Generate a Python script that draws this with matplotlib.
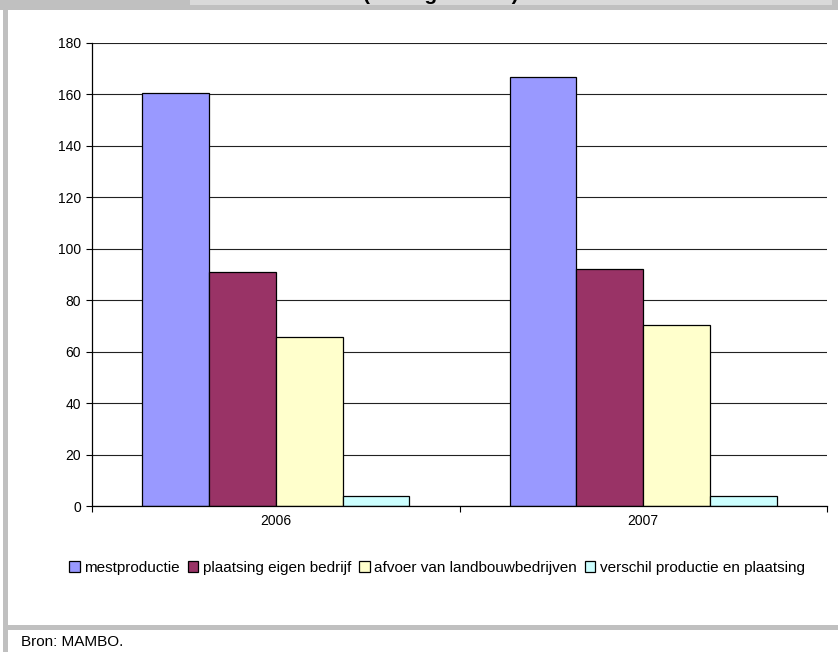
import matplotlib.pyplot as plt
from matplotlib.patches import Rectangle
import numpy as np

# ------------------------------------------------------------
# Data
# ------------------------------------------------------------
years = ["2006", "2007"]
series_names = [
    "mestproductie",
    "plaatsing eigen bedrijf",
    "afvoer van landbouwbedrijven",
    "verschil productie en plaatsing",
]
mestproductie = [160.5, 166.7]
plaatsing_eigen = [91.0, 92.1]
afvoer = [65.8, 70.4]
verschil = [3.9, 3.9]
y_ticks = [0, 20, 40, 60, 80, 100, 120, 140, 160, 180]

colors = ["#9999FF", "#993366", "#FFFFCC", "#CCFFFF"]

W, H = 838, 652


def fx(px):
    return px / W


def fy(py):
    return 1 - py / H


fig = plt.figure(figsize=(W / 100, H / 100), dpi=100)
fig.patch.set_facecolor("white")

# frame decorations (Excel sheet look)
gray = "#c0c0c0"
fig.patches.append(Rectangle((0, fy(10)), 1, 10 / H, transform=fig.transFigure,
                             facecolor=gray, edgecolor="none", zorder=0))
fig.patches.append(Rectangle((fx(190), fy(5)), fx(832) - fx(190), 5 / H,
                             transform=fig.transFigure, facecolor="#d9d9d9",
                             edgecolor="none", zorder=1))
fig.patches.append(Rectangle((fx(3), 0), 5 / W, fy(10), transform=fig.transFigure,
                             facecolor=gray, edgecolor="none", zorder=0))
fig.patches.append(Rectangle((fx(3), fy(630)), 1 - fx(3), 5 / H,
                             transform=fig.transFigure, facecolor=gray,
                             edgecolor="none", zorder=0))

# title, cut off at the top edge like in the source image
fig.text(fx(363), fy(0.5), "(mln kg fosfaat)", ha="left", va="baseline",
         fontsize=15, fontweight="bold", family="Liberation Sans", zorder=3)

# ------------------------------------------------------------
# Chart
# ------------------------------------------------------------
ax = fig.add_axes([fx(92), fy(506), fx(827) - fx(92), (506 - 43) / H])

all_series = [mestproductie, plaatsing_eigen, afvoer, verschil]
x = np.arange(len(years))
bw = 1 / 5.5
for i, (vals, name, col) in enumerate(zip(all_series, series_names, colors)):
    ax.bar(x + (i - 1.5) * bw, vals, width=bw, color=col, edgecolor="black",
           linewidth=0.9, label=name, zorder=3)

ax.set_xlim(-0.5, 1.5)
ax.set_ylim(0, 180)
ax.set_yticks(y_ticks)
ax.set_yticklabels([str(t) for t in y_ticks], fontsize=10, family="Liberation Sans")
ax.yaxis.grid(True, color="#222222", linewidth=0.8, zorder=0)

ax.set_xticks([-0.5, 0.5, 1.5])
ax.set_xticklabels([])
ax.set_xticks(x, minor=True)
ax.set_xticklabels(years, minor=True, fontsize=10, family="Liberation Sans")
ax.tick_params(axis="x", which="minor", length=0, pad=6)
ax.tick_params(axis="x", which="major", length=4, width=0.8, direction="out")
ax.tick_params(axis="y", length=4, width=0.8, direction="out", pad=4)

for s in ["top", "right"]:
    ax.spines[s].set_visible(False)
for s in ["left", "bottom"]:
    ax.spines[s].set_linewidth(0.9)
    ax.spines[s].set_zorder(4)

fig.legend(loc="center", bbox_to_anchor=(fx(437), fy(568)), ncol=4,
           frameon=False, handlelength=0.7, handleheight=0.7,
           handletextpad=0.3, columnspacing=0.5,
           prop={"family": "Liberation Sans", "size": 11})

fig.text(fx(21), fy(646), "Bron: MAMBO.", ha="left", va="baseline",
         fontsize=11, family="Liberation Sans")

fig.savefig("out.png", dpi=100, facecolor=fig.get_facecolor())
